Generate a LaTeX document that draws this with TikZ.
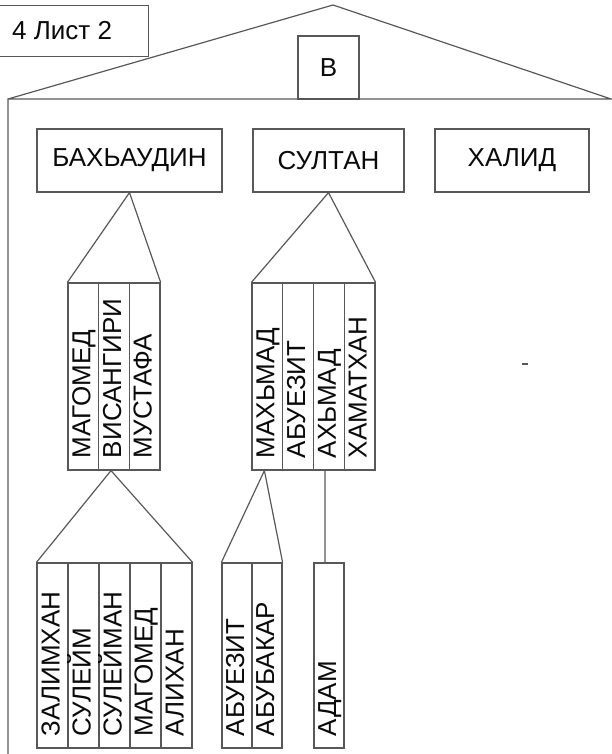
\documentclass[tikz,border=0pt]{standalone}
\usepackage{fontspec}
\setmainfont{Liberation Sans}
\newcommand\myfs{\fontsize{26}{30}\selectfont}
\newcommand\myfr{\fontsize{26}{30}\selectfont}
\definecolor{lc}{HTML}{585858}
\definecolor{tc}{HTML}{0A0A0A}
\begin{document}
\begin{tikzpicture}[x=1pt,y=-1pt,
  ln/.style={draw=lc, line width=1.2pt},
  box/.style={ln, rectangle, inner sep=0pt, font=\myfs, text=tc},
  cell/.style={ln, rectangle, rotate=90, inner xsep=12pt, inner ysep=0pt,
    align=left, font=\myfr, text=tc, text height=19pt, text depth=5pt},
  rowa/.style={cell, text width=163pt},
  rowb/.style={cell, text width=161pt, inner xsep=12pt},
]
\useasboundingbox (0,0) rectangle (612,754);
% roof and frame
\coordinate (apex) at (333,5);
\coordinate (bl) at (8,99);
\coordinate (br) at (611,99);
\coordinate (fb) at (8,754);
\draw[ln] (bl) -- (apex) -- (br) -- (bl) -- (fb);
% sheet label
\node[box, minimum width=150pt, minimum height=51pt, anchor=north west] (lbl) at (-2,5) {};
\node[font=\myfs, text=tc, anchor=west, inner sep=0pt] (lbltxt) at (12,31) {4 Лист 2};
% B box
\node[box, minimum width=61pt, minimum height=63pt] (bb) at (328.5,67.5) {В};
% top row
\node[box, minimum width=185pt, minimum height=63pt] (bah) at (129.5,160.5) {БАХЬАУДИН};
\node[box, minimum width=151pt, minimum height=63pt] (sul) at (328.5,160.5) {СУЛТАН};
\node[box, minimum width=154pt, minimum height=63pt] (hal) at (512,160.5) {ХАЛИД};
% group 1
\node[rowa, minimum height=30.67pt] (a1) at (83.3,376.5) {МАГОМЕД};
\node[rowa, minimum height=30.67pt] (a2) at (114,376.5) {ВИСАНГИРИ};
\node[rowa, minimum height=30.67pt] (a3) at (144.7,376.5) {МУСТАФА};
% group 2
\node[rowa, minimum height=30.75pt] (b1) at (267.4,376.5) {МАХЬМАД};
\node[rowa, minimum height=30.75pt] (b2) at (298.1,376.5) {АБУЕЗИТ};
\node[rowa, minimum height=30.75pt] (b3) at (328.9,376.5) {АХЬМАД};
\node[rowa, minimum height=30.75pt] (b4) at (359.6,376.5) {ХАМАТХАН};
% group 3
\node[rowb, minimum height=31pt] (c1) at (52.5,655.5) {ЗАЛИМХАН};
\node[rowb, minimum height=31pt] (c2) at (83.5,655.5) {СУЛЕЙМ};
\node[rowb, minimum height=31pt] (c3) at (114.5,655.5) {СУЛЕЙМАН};
\node[rowb, minimum height=31pt] (c4) at (145.5,655.5) {МАГОМЕД};
\node[rowb, minimum height=31pt] (c5) at (176.5,655.5) {АЛИХАН};
% group 4
\node[rowb, minimum height=30pt] (d1) at (237,655.5) {АБУЕЗИТ};
\node[rowb, minimum height=30pt] (d2) at (267,655.5) {АБУБАКАР};
% adam
\node[rowb, minimum height=30pt] (ad) at (329,655.5) {АДАМ};
% connectors
\draw[ln] (a1.north east) -- (bah.south) -- (a3.south east);
\draw[ln] (b1.north east) -- (sul.south) -- (b4.south east);
\draw[ln] (c1.north east) -- ([xshift=-3pt]a2.west) -- (c5.south east);
\draw[ln] (d1.north east) -- ([xshift=-3pt]b1.west) -- (d2.south east);
\draw[ln] ([xshift=-4pt]b3.west) -- ([xshift=-4pt]ad.east);
% stray mark
\draw[lc, line width=1.6pt] (522,364) -- (528,364);
\end{tikzpicture}
\end{document}
